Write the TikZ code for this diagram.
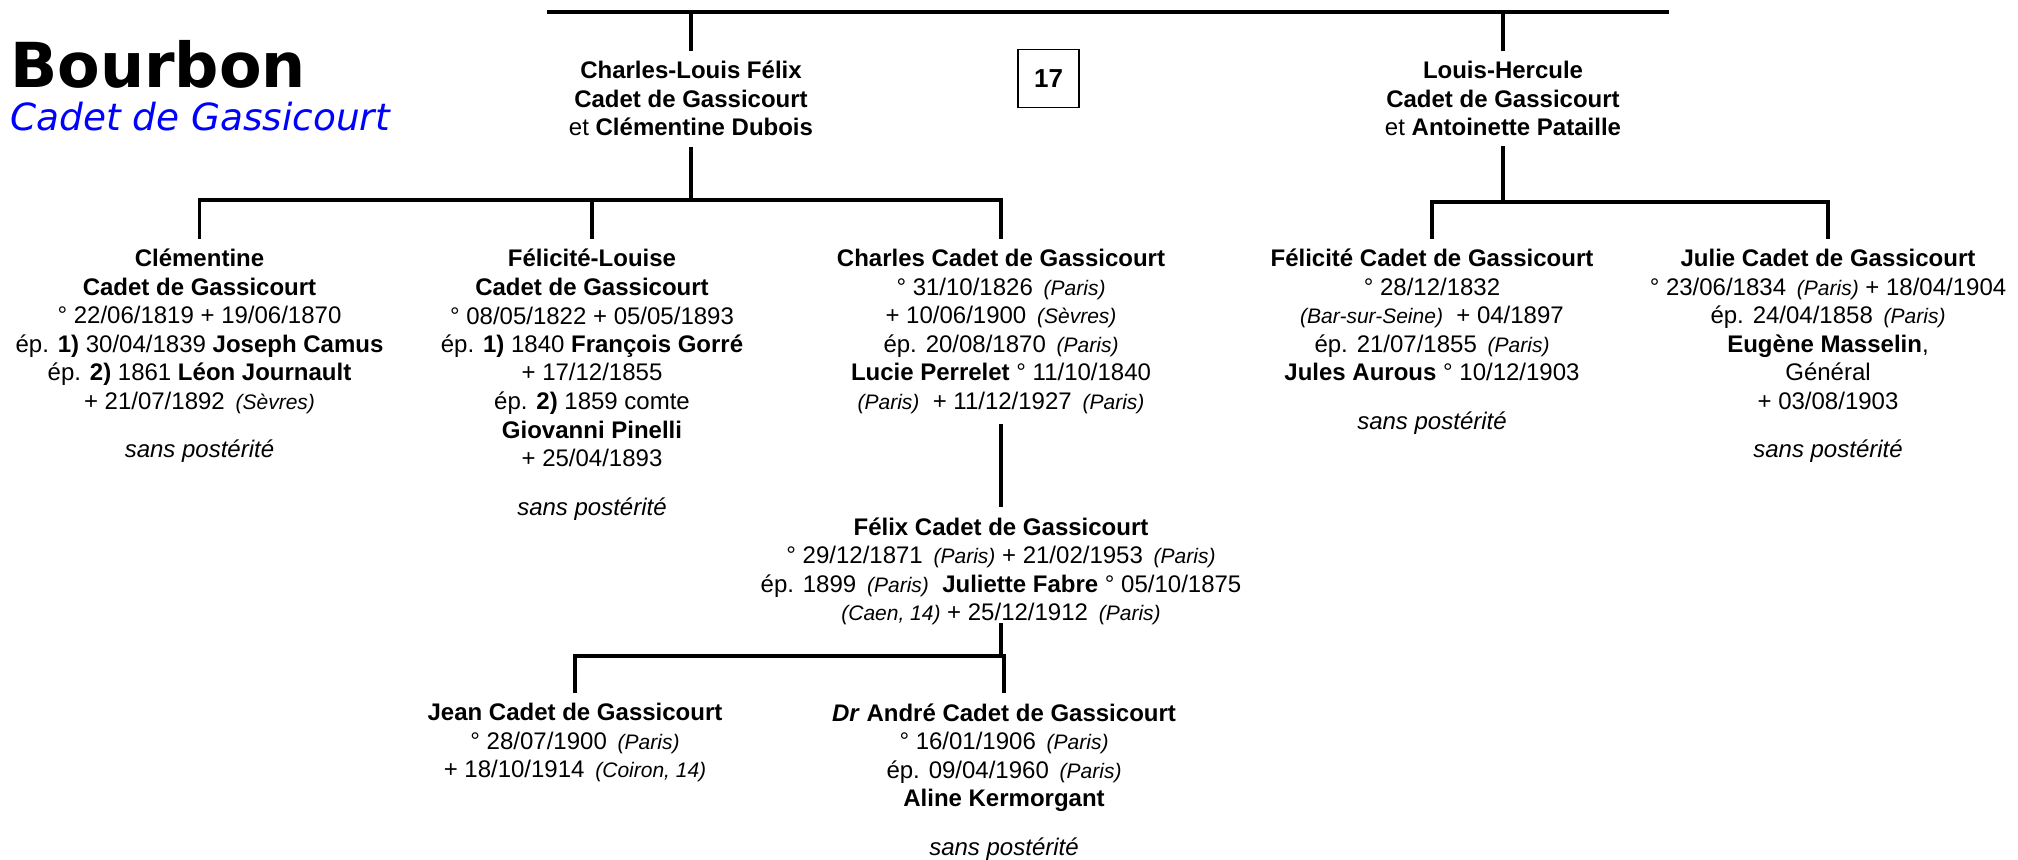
\documentclass[tikz,border=0pt]{standalone}
\usepackage{fontspec}
\setmainfont{Liberation Sans}
\newfontfamily\titlefont{DejaVu Sans}
\newcommand{\lieu}[1]{\hspace{.45em}{\fontsize{10.5}{12}\selectfont\itshape (#1)}}

\begin{document}
\begin{tikzpicture}[
        x=0.5pt, y=-0.5pt,
        tree/.style={line width=1.6pt, draw=black},
        person/.style={align=center, anchor=north, inner xsep=0pt, inner ysep=5pt, font=\fontsize{12}{14.25}\selectfont},
        numbox/.style={draw=black, line width=0.7pt, minimum width=30.5pt, minimum height=29pt, inner sep=0pt, font=\fontsize{13}{15}\selectfont\bfseries},
        title/.style={anchor=base west, inner sep=0pt}
    ]
        \useasboundingbox (0,0) rectangle (2018,860);
        \node[title, font=\titlefont\bfseries\fontsize{31}{36}\selectfont] (famille) at (10,87.5) {Bourbon};
        \node[title, font=\titlefont\itshape\fontsize{18.7}{22}\selectfont, text=blue] (branche) at (10,131) {Cadet de Gassicourt};
        \coordinate (hautG) at (547,12);
        \coordinate (hautD) at (1669,12);
        \coordinate (barre1) at (0,200);
        \coordinate (barre2) at (0,202);
        \coordinate (barre3) at (0,656);
        \node[person] (clf) at (691,51) {\textbf{Charles-Louis Félix}\\\textbf{Cadet de Gassicourt}\\et \textbf{Clémentine Dubois}};
        \node[person] (lh) at (1503,51) {\textbf{Louis-Hercule}\\\textbf{Cadet de Gassicourt}\\et \textbf{Antoinette Pataille}};
        \node[numbox] (num) at (1048.5,78.5) {17};
        \node[person] (clem) at (199.5,239) {\textbf{Clémentine}\\\textbf{Cadet de Gassicourt}\\° 22/06/1819 + 19/06/1870\\ép. \textbf{1)} 30/04/1839 \textbf{Joseph Camus}\\ép. \textbf{2)} 1861 \textbf{Léon Journault}\\+ 21/07/1892\lieu{Sèvres}\\[10pt]\textit{sans postérité}};
        \node[person] (fl) at (592,239) {\textbf{Félicité-Louise}\\\textbf{Cadet de Gassicourt}\\° 08/05/1822 + 05/05/1893\\ép. \textbf{1)} 1840 \textbf{François Gorré}\\+ 17/12/1855\\ép. \textbf{2)} 1859 comte\\\textbf{Giovanni Pinelli}\\+ 25/04/1893\\[10pt]\textit{sans postérité}};
        \node[person] (ch) at (1001,239) {\textbf{Charles Cadet de Gassicourt}\\° 31/10/1826\lieu{Paris}\\+ 10/06/1900\lieu{Sèvres}\\ép. 20/08/1870\lieu{Paris}\\\textbf{Lucie Perrelet} ° 11/10/1840\\{\fontsize{10.5}{12}\selectfont\itshape (Paris)} \ + 11/12/1927\lieu{Paris}};
        \node[person] (fel) at (1432,239) {\textbf{Félicité Cadet de Gassicourt}\\° 28/12/1832\\{\fontsize{10.5}{12}\selectfont\itshape (Bar-sur-Seine)} \ + 04/1897\\ép. 21/07/1855\lieu{Paris}\\\textbf{Jules Aurous} ° 10/12/1903\\[10pt]\textit{sans postérité}};
        \node[person] (julie) at (1828,239) {\textbf{Julie Cadet de Gassicourt}\\° 23/06/1834\lieu{Paris} + 18/04/1904\\ép. 24/04/1858\lieu{Paris}\\\textbf{Eugène Masselin},\\Général\\+ 03/08/1903\\[10pt]\textit{sans postérité}};
        \node[person] (felix) at (1001,507) {\textbf{Félix Cadet de Gassicourt}\\° 29/12/1871\lieu{Paris} + 21/02/1953\lieu{Paris}\\ép. 1899\lieu{Paris} \ \textbf{Juliette Fabre} ° 05/10/1875\\{\fontsize{10.5}{12}\selectfont\itshape (Caen, 14)} + 25/12/1912\lieu{Paris}};
        \node[person] (jean) at (575,693) {\textbf{Jean Cadet de Gassicourt}\\° 28/07/1900\lieu{Paris}\\+ 18/10/1914\lieu{Coiron, 14}};
        \node[person] (andre) at (1004,693) {\textbf{\textit{Dr} André Cadet de Gassicourt}\\° 16/01/1906\lieu{Paris}\\ép. 09/04/1960\lieu{Paris}\\\textbf{Aline Kermorgant}\\[10pt]\textit{sans postérité}};
        \draw[tree] (hautG) -- (hautD);
        \draw[tree] (clf.north |- hautG) -- (clf.north);
        \draw[tree] (lh.north |- hautG) -- (lh.north);
        \draw[tree] (clf.south) -- (clf.south |- barre1);
        \draw[tree] (clem.north) |- (ch.north |- barre1) -- (ch.north);
        \draw[tree] (fl.north) -- (fl.north |- barre1);
        \draw[tree] (lh.south) -- (lh.south |- barre2);
        \draw[tree] (fel.north) |- (julie.north |- barre2) -- (julie.north);
        \draw[tree] (ch.south) -- (felix.north);
        \draw[tree] ([yshift=6pt]felix.south) -- (felix.south |- barre3);
        \draw[tree] (jean.north) |- (andre.north |- barre3) -- (andre.north);
    \end{tikzpicture}
\end{document}
